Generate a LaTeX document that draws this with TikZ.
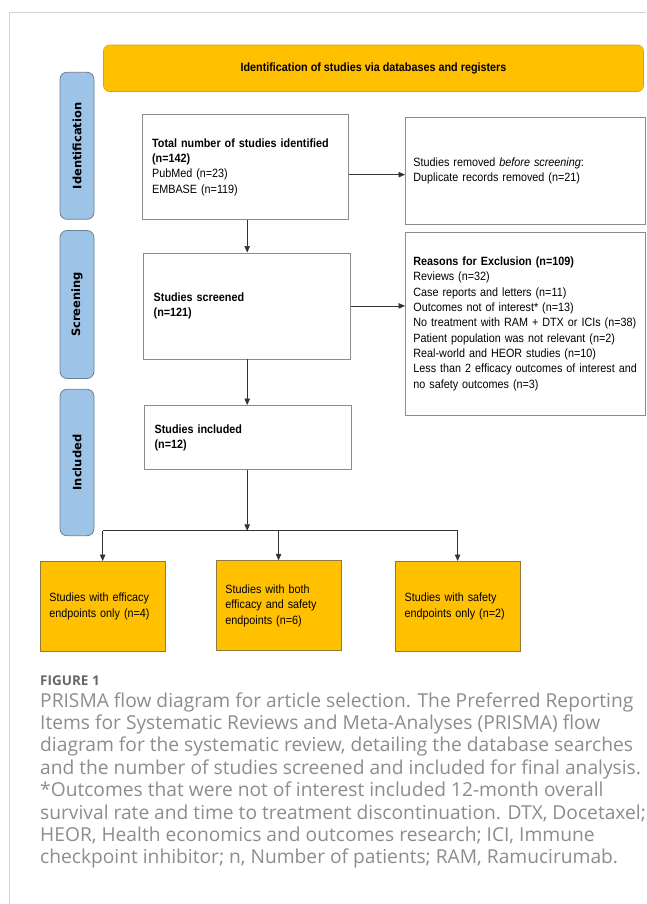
\documentclass[tikz,border=0pt]{standalone}
\usepackage{fontspec}
\setmainfont{Liberation Sans}
\newfontfamily\narrowsans[FakeStretch=0.9]{Liberation Sans}
\newfontfamily\tabsans{DejaVu Sans}
\newfontfamily\captionsans{Open Sans}
\usetikzlibrary{arrows.meta,positioning,calc}
\definecolor{prismagold}{HTML}{FFC000}
\definecolor{golddraw}{HTML}{8F7B3E}
\definecolor{headdraw}{HTML}{D9A400}
\definecolor{tabblue}{HTML}{9DC3E6}
\definecolor{tabdraw}{HTML}{6B7F95}
\definecolor{boxgray}{HTML}{8C8C8C}
\definecolor{linegray}{HTML}{333333}
\definecolor{captiongray}{HTML}{8C8C8C}
\definecolor{labelgray}{HTML}{666666}
\definecolor{framegray}{HTML}{D3D3D3}
\tikzset{
  headbar/.style={rounded corners=6pt, draw=headdraw, fill=prismagold, line width=0.6pt, align=center, font=\narrowsans\bfseries\fontsize{12}{15.3}\selectfont, minimum width=540pt, minimum height=46.5pt},
  stagetab/.style={rounded corners=7pt, draw=tabdraw, fill=tabblue, line width=0.8pt, rotate=90, minimum height=34pt, inner sep=0pt, font=\tabsans\bfseries\fontsize{11.5}{13}\selectfont},
  flowbox/.style={draw=boxgray, fill=white, line width=0.8pt, align=left, anchor=north west, inner xsep=10pt, inner ysep=0pt, font=\narrowsans\fontsize{12}{15.3}\selectfont},
  resultbox/.style={flowbox, fill=prismagold, draw=golddraw, inner xsep=9.5pt},
  edge/.style={-{Triangle[length=6.5pt,width=5.5pt]}, line width=0.7pt, draw=linegray},
  plainedge/.style={line width=0.7pt, draw=linegray}
}

\begin{document}
\begin{tikzpicture}[x=1pt, y=-1pt]
  \useasboundingbox (0,0) rectangle (646,904);
  \draw[framegray, line width=0.8pt] (9,904) -- (9,12) -- (646,12);

  \node[headbar] (idhead) at (373.5,68.3) {Identification of studies via databases and registers};

  \node[stagetab, minimum width=147pt] (idtab) at (77,145.8) {Identification};
  \node[stagetab, minimum width=148pt] (screentab) at (77,304.5) {Screening};
  \node[stagetab, minimum width=146.4pt] (incltab) at (77,462.5) {Included};

  \node[flowbox, text width=186.5pt, minimum height=105.3pt] (identified) at (141.7,114) {\textbf{Total number of studies identified}\\\textbf{(n=142)}\\PubMed (n=23)\\EMBASE (n=119)};
  \node[flowbox, inner xsep=8pt, text width=224pt, minimum height=106.7pt] (removed) at (405,117.3) {Studies removed \textit{before screening}:\\Duplicate records removed (n=21)};
  \node[flowbox, text width=187pt, minimum height=106pt] (screened) at (143.3,252.5) {\textbf{Studies screened}\\\textbf{(n=121)}};
  \node[flowbox, inner xsep=8pt, text width=224pt, minimum height=183.3pt] (excluded) at (405,231.7) {\textbf{Reasons for Exclusion (n=109)}\\Reviews (n=32)\\Case reports and letters (n=11)\\Outcomes not of interest* (n=13)\\No treatment with RAM + DTX or ICIs (n=38)\\Patient population was not relevant (n=2)\\Real-world and HEOR studies (n=10)\\Less than 2 efficacy outcomes of interest and\\no safety outcomes (n=3)};
  \node[flowbox, text width=186.4pt, minimum height=64.3pt] (included) at (144.2,405) {\textbf{Studies included}\\\textbf{(n=12)}};

  \node[resultbox, text width=106.5pt, minimum height=89.7pt] (effonly) at (39.5,561) {Studies with efficacy\\endpoints only (n=4)};
  \node[resultbox, text width=106.3pt, minimum height=90pt] (bothends) at (215.5,560.3) {Studies with both\\efficacy and safety\\endpoints (n=6)};
  \node[resultbox, text width=106pt, minimum height=89.7pt] (safeonly) at (394.7,561) {Studies with safety\\endpoints only (n=2)};

  \coordinate (split) at ([yshift=-60.7pt]included.south -| screened.south);

  \draw[edge] (screened.north |- identified.south) -- (screened.north);
  \draw[edge] ([yshift=-7.6pt]identified.east) -- ([yshift=-7.6pt]identified.east -| removed.west);
  \draw[edge] (screened.east) -- (screened.east -| excluded.west);
  \draw[edge] (screened.south) -- (screened.south |- included.north);
  \draw[edge] (screened.south |- included.south) -- (split);
  \draw[plainedge] (effonly.north |- split) -- (safeonly.north |- split);
  \draw[edge] (effonly.north |- split) -- (effonly.north);
  \draw[edge] (bothends.north |- split) -- (bothends.north);
  \draw[edge] (safeonly.north |- split) -- (safeonly.north);

  \node[anchor=base west, inner sep=0pt, font=\captionsans\bfseries\fontsize{13.5}{16}\selectfont, text=labelgray] (figlabel) at (40,685) {FIGURE 1};
  \node[anchor=north west, inner sep=0pt, align=left, font=\captionsans\fontsize{19.2}{22.4}\selectfont, text=captiongray] (figcaption) at (40,692.2) {PRISMA flow diagram for article selection. The Preferred Reporting\\Items for Systematic Reviews and Meta-Analyses (PRISMA) flow\\diagram for the systematic review, detailing the database searches\\and the number of studies screened and included for final analysis.\\*Outcomes that were not of interest included 12-month overall\\survival rate and time to treatment discontinuation. DTX, Docetaxel;\\HEOR, Health economics and outcomes research; ICI, Immune\\checkpoint inhibitor; n, Number of patients; RAM, Ramucirumab.};
\end{tikzpicture}
\end{document}
